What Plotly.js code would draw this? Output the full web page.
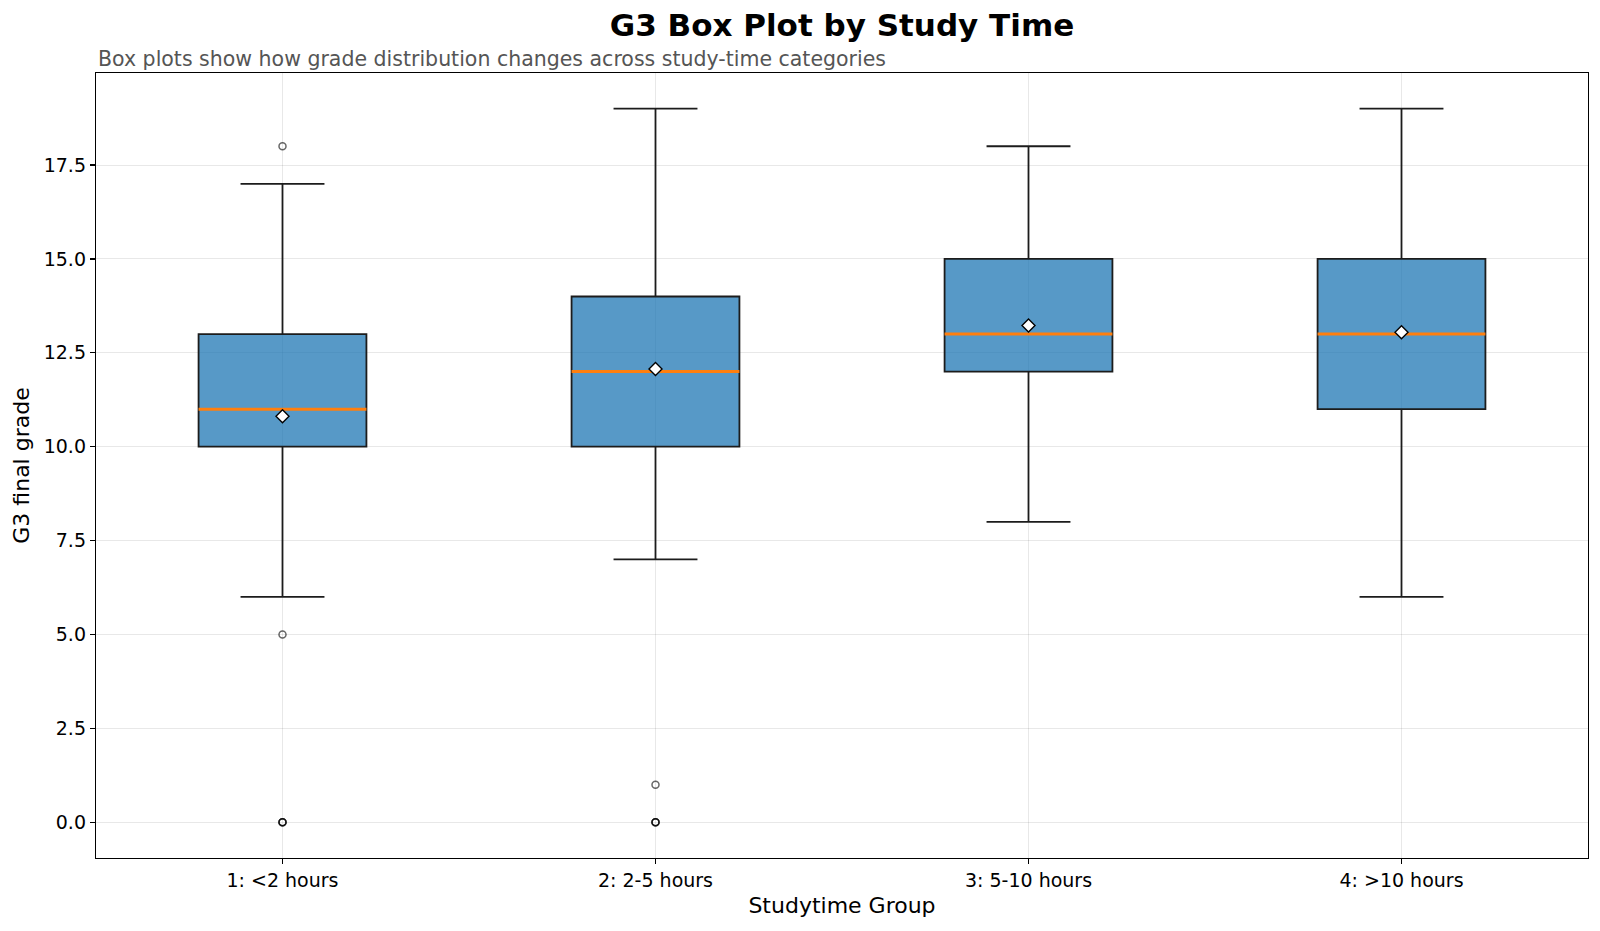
<!DOCTYPE html>
<html>
<head>
<meta charset="utf-8">
<script src="https://cdn.plot.ly/plotly-3.0.1.min.js"></script>
<style>
  html, body { margin: 0; padding: 0; background: #ffffff; }
  #chart { width: 1600px; height: 931px; }
</style>
</head>
<body>
<div id="chart"></div>
<script>
// Study-time groups and the G3 summary statistics for each one
const groupPositions = [1, 2, 3, 4];
const groupLabels = ['1: <2 hours', '2: 2-5 hours', '3: 5-10 hours', '4: >10 hours'];
const q1Values = [10, 10, 12, 11];
const medianValues = [11, 12, 13, 13];
const q3Values = [13, 14, 15, 15];
const lowerWhisker = [6, 7, 8, 6];
const upperWhisker = [17, 19, 18, 19];
const meanValues = [10.81, 12.07, 13.23, 13.05];

// Points beyond the whiskers (repeated zeros overlap)
const outlierGroup = [1, 1, 1, 1, 1, 2, 2, 2, 2];
const outlierGrade = [18, 5, 0, 0, 0, 1, 0, 0, 0];

const yTicks = [0, 2.5, 5, 7.5, 10, 12.5, 15, 17.5];

const BOX_WIDTH = 0.45;
const FONT = 'DejaVu Sans, sans-serif';

// Median segments spanning each box
const medX = [], medY = [];
groupPositions.forEach((g, i) => {
  medX.push(g - BOX_WIDTH / 2, g + BOX_WIDTH / 2, null);
  medY.push(medianValues[i], medianValues[i], null);
});

const traces = [
  {
    type: 'box',
    x: groupPositions,
    q1: q1Values,
    median: medianValues,
    q3: q3Values,
    lowerfence: lowerWhisker,
    upperfence: upperWhisker,
    width: BOX_WIDTH,
    whiskerwidth: 0.5,
    fillcolor: 'rgba(31,119,180,0.75)',
    line: { color: '#1c1c1c', width: 1.8 },
    boxpoints: false,
    hoverinfo: 'skip',
    showlegend: false
  },
  {
    type: 'scatter',
    mode: 'lines',
    x: medX,
    y: medY,
    line: { color: '#ff7f0e', width: 3 },
    hoverinfo: 'skip',
    showlegend: false
  },
  {
    type: 'scatter',
    mode: 'markers',
    x: groupPositions,
    y: meanValues,
    marker: { symbol: 'diamond', size: 10, color: '#ffffff', line: { color: '#000000', width: 1.4 } },
    showlegend: false
  },
  {
    type: 'scatter',
    mode: 'markers',
    x: outlierGroup,
    y: outlierGrade,
    marker: { symbol: 'circle-open', size: 7, color: 'rgba(0,0,0,0.6)', line: { width: 1.5 } },
    showlegend: false
  }
];

const layout = {
  width: 1600,
  height: 931,
  paper_bgcolor: '#ffffff',
  plot_bgcolor: '#ffffff',
  margin: { l: 96, r: 12, t: 73, b: 73 },
  font: { family: FONT, size: 19, color: '#000000' },
  title: {
    text: '<b>G3 Box Plot by Study Time</b>',
    font: { family: FONT, size: 31, color: '#000000' },
    x: 0.5, xref: 'paper', xanchor: 'center',
    y: 1 - 25 / 931, yref: 'container', yanchor: 'middle'
  },
  xaxis: {
    range: [0.5, 4.5],
    tickmode: 'array',
    tickvals: groupPositions,
    ticktext: groupLabels,
    ticks: 'outside', ticklen: 5, tickwidth: 1.2, tickcolor: '#000',
    showline: true, linecolor: '#000', linewidth: 1.2, mirror: true,
    showgrid: true, gridcolor: 'rgba(0,0,0,0.09)', gridwidth: 1,
    zeroline: false,
    tickfont: { family: FONT, size: 19, color: '#000' },
    title: { text: 'Studytime Group', font: { family: FONT, size: 22, color: '#000' }, standoff: 7 }
  },
  yaxis: {
    range: [-0.95, 19.95],
    tickmode: 'array',
    tickvals: yTicks,
    ticktext: yTicks.map(v => v.toFixed(1)),
    ticks: 'outside', ticklen: 5, tickwidth: 1.2, tickcolor: '#000',
    showline: true, linecolor: '#000', linewidth: 1.2, mirror: true,
    showgrid: true, gridcolor: 'rgba(0,0,0,0.09)', gridwidth: 1,
    zeroline: false,
    tickfont: { family: FONT, size: 19, color: '#000' },
    title: { text: 'G3 final grade', font: { family: FONT, size: 22, color: '#000' }, standoff: 8 }
  },
  annotations: [
    {
      text: 'Box plots show how grade distribution changes across study-time categories',
      xref: 'paper', yref: 'paper', x: 0, y: 1,
      xanchor: 'left', yanchor: 'bottom', yshift: 0,
      showarrow: false,
      font: { family: FONT, size: 20.5, color: '#555555' }
    }
  ]
};

Plotly.newPlot('chart', traces, layout, { displayModeBar: false, staticPlot: true });
</script>
</body>
</html>
